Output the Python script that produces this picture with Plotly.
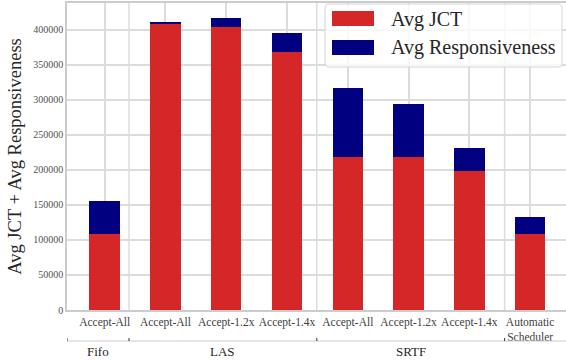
import plotly.graph_objects as go

categories = ["Accept-All", "Accept-All", "Accept-1.2x", "Accept-1.4x",
              "Accept-All", "Accept-1.2x", "Accept-1.4x", "Automatic<br>Scheduler"]
avg_jct = [108000, 408500, 404300, 368600, 219000, 217600, 199000, 107900]
avg_resp = [47000, 1400, 12800, 27100, 98300, 76900, 32800, 24200]
series_names = ["Avg JCT", "Avg Responsiveness"]
groups = ["Fifo", "LAS", "SRTF", ""]
group_bounds = [-0.62, 0.40, 3.49, 6.58, 7.59]
y_ticks = [0, 50000, 100000, 150000, 200000, 250000, 300000, 350000, 400000]

FONT = "Liberation Serif"
RED = "#d62728"
NAVY = "#000080"
GRID = "#dcdcdc"
colors = [RED, NAVY]

W, H = 566, 360
ML, MR, MT, MB = 67, 0, 3, 50
PW, PH = W - ML - MR, H - MT - MB


def px(xp):
    return (xp - ML) / PW


def py(yp):
    return (H - MB - yp) / PH


xpos = list(range(len(categories)))

fig = go.Figure()
for vals, name, col in zip([avg_jct, avg_resp], series_names, colors):
    fig.add_trace(go.Bar(x=xpos, y=vals, name=name, marker=dict(color=col, line=dict(width=0)),
                         width=0.5, showlegend=False))

shapes = []
# separator gridlines inside plot
for b in group_bounds[1:-1]:
    shapes.append(dict(type="line", xref="x", yref="paper", x0=b, x1=b, y0=0, y1=1,
                       line=dict(color=GRID, width=1.5), layer="below"))
# group axis line below
gy = py(341)
shapes.append(dict(type="line", xref="paper", yref="paper", x0=0, x1=1, y0=gy, y1=gy,
                   line=dict(color="#cccccc", width=1.2)))
for b in group_bounds[:-1]:
    shapes.append(dict(type="line", xref="x", yref="paper", x0=b, x1=b, y0=gy, y1=py(338),
                       line=dict(color="#333333", width=1)))

# legend box (rounded)
lx0, lx1, ly0, ly1, r = 325, 562, 4, 67, 4
def P(a, b):
    return f"{px(a):.5f},{py(b):.5f}"
path = (f"M {P(lx0 + r, ly0)} L {P(lx1 - r, ly0)} Q {P(lx1, ly0)} {P(lx1, ly0 + r)} "
        f"L {P(lx1, ly1 - r)} Q {P(lx1, ly1)} {P(lx1 - r, ly1)} "
        f"L {P(lx0 + r, ly1)} Q {P(lx0, ly1)} {P(lx0, ly1 - r)} "
        f"L {P(lx0, ly0 + r)} Q {P(lx0, ly0)} {P(lx0 + r, ly0)} Z")
shapes.append(dict(type="path", xref="paper", yref="paper", path=path,
                   fillcolor="rgba(255,255,255,0.8)", line=dict(color="#d4d4d4", width=1)))
swatch_y = [(11, 26), (40, 55)]
text_y = [19, 48]
annotations = []
for (s0, s1), ty, name, col in zip(swatch_y, text_y, series_names, colors):
    shapes.append(dict(type="rect", xref="paper", yref="paper", x0=px(332), x1=px(374), y0=py(s1), y1=py(s0),
                       fillcolor=col, line=dict(width=0)))
    annotations.append(dict(x=px(389), y=py(ty), xref="paper", yref="paper", text=name, showarrow=False,
                            xanchor="left", yanchor="middle", font=dict(family=FONT, size=20, color="#262626")))

for i, g in enumerate(groups):
    if not g:
        continue
    annotations.append(dict(x=(group_bounds[i] + group_bounds[i + 1]) / 2, y=py(351), xref="x", yref="paper",
                            text=g, showarrow=False, font=dict(family=FONT, size=13, color="#262626"),
                            xanchor="center", yanchor="middle"))

fig.update_layout(
    width=W, height=H,
    margin=dict(l=ML, r=MR, t=MT, b=MB, autoexpand=False),
    barmode="stack",
    plot_bgcolor="white", paper_bgcolor="white",
    font=dict(family=FONT, color="#262626"),
    shapes=shapes, annotations=annotations,
    showlegend=False,
    xaxis=dict(range=[group_bounds[0], group_bounds[-1]], tickmode="array", tickvals=xpos, ticktext=categories,
               showgrid=True, gridcolor=GRID, gridwidth=1.5, showline=True, linecolor="#cccccc", linewidth=1.5,
               mirror=True, ticks="", tickfont=dict(family=FONT, size=11.5, color="#404040"), zeroline=False,
               automargin=False),
    yaxis=dict(range=[0, 438000], tickmode="array", tickvals=y_ticks, tickformat="d",
               showgrid=True, gridcolor=GRID, gridwidth=1.5, showline=True, linecolor="#cccccc", linewidth=1.5,
               ticks="", tickfont=dict(family=FONT, size=10, color="#505050"), zeroline=False, automargin=False,
               title=dict(text="Avg JCT + Avg Responsiveness", font=dict(family=FONT, size=18.5, color="#262626"), standoff=7)),
)

fig.write_html("out.html", config={"displayModeBar": False},
               post_script="document.body.style.margin='0';document.body.style.padding='0';")
